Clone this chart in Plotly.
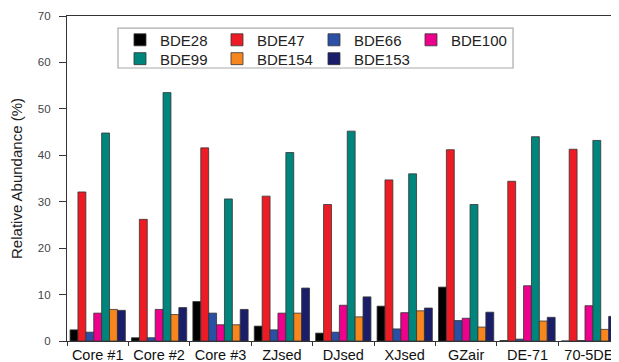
import plotly.graph_objects as go

categories = ["Core #1", "Core #2", "Core #3", "ZJsed", "DJsed", "XJsed", "GZair", "DE-71", "70-5DE"]
series_names = ["BDE28", "BDE47", "BDE66", "BDE100", "BDE99", "BDE154", "BDE153"]
bde28  = [2.4, 0.7, 8.5, 3.2, 1.7, 7.5, 11.6, 0.1, 0.0]
bde47  = [32.1, 26.2, 41.6, 31.2, 29.4, 34.7, 41.2, 34.4, 41.3]
bde66  = [1.9, 0.7, 6.0, 2.4, 1.9, 2.6, 4.4, 0.4, 0.1]
bde100 = [6.0, 6.8, 3.5, 6.0, 7.7, 6.1, 4.9, 11.9, 7.6]
bde99  = [44.8, 53.5, 30.6, 40.6, 45.2, 36.0, 29.4, 44.0, 43.2]
bde154 = [6.8, 5.7, 3.5, 6.0, 5.2, 6.5, 3.0, 4.3, 2.5]
bde153 = [6.6, 7.2, 6.8, 11.4, 9.5, 7.1, 6.2, 5.1, 5.3]
series_values = [bde28, bde47, bde66, bde100, bde99, bde154, bde153]
colors = ["#000000", "#ed1c24", "#2a50a6", "#ec008c", "#00857d", "#f7861f", "#191d6a"]
legend_rows = ["legend", "legend", "legend", "legend", "legend2", "legend2", "legend2"]
y_ticks = [0, 10, 20, 30, 40, 50, 60, 70]

fig = go.Figure()
for name, vals, col, lg in zip(series_names, series_values, colors, legend_rows):
    fig.add_trace(go.Bar(
        name=name, x=categories, y=vals, legend=lg,
        marker=dict(color=col, line=dict(color="#333333", width=0.8)),
    ))

legend_common = dict(
    orientation="h", x=0.096, xanchor="left", yanchor="middle",
    entrywidth=52, entrywidthmode="pixels",
    borderwidth=0, bgcolor="rgba(0,0,0,0)",
    font=dict(size=15, color="#222222"),
    itemwidth=30, tracegroupgap=0,
)

fig.update_layout(
    width=611, height=354,
    margin=dict(l=59, r=0, t=8, b=21, pad=0, autoexpand=False),
    barmode="group", bargap=0.1, bargroupgap=0,
    plot_bgcolor="white", paper_bgcolor="white",
    font=dict(family="Liberation Sans, Arial, sans-serif", color="#222222"),
    legend=dict(legend_common, y=0.926),
    legend2=dict(legend_common, y=0.868),
    showlegend=True,
    shapes=[dict(
        type="rect", xref="paper", yref="paper",
        x0=0.0924, x1=0.808, y0=0.840, y1=0.963,
        line=dict(color="#aaaaaa", width=1.2), fillcolor="white", layer="above",
    )],
)
fig.update_xaxes(
    range=[-0.5, 8.49], showline=True, linecolor="#333333", linewidth=1.2,
    mirror=True, ticks="outside", tickson="boundaries", ticklen=4,
    tickangle=0, ticklabelstandoff=0,
    tickcolor="#333333", tickfont=dict(size=14.5, color="#111111"),
    showgrid=False, automargin=False,
)
fig.update_yaxes(
    range=[0, 70], tickvals=y_ticks, showline=True, linecolor="#333333",
    linewidth=1.2, mirror=True, ticks="outside", ticklen=7, tickcolor="#333333",
    ticklabelstandoff=6,
    tickfont=dict(size=11.5, color="#444444"), showgrid=False, zeroline=False,
    automargin=False,
    title=dict(text="Relative Abundance (%)", font=dict(size=15, color="#222222"), standoff=11),
)
fig.write_html("out.html")
